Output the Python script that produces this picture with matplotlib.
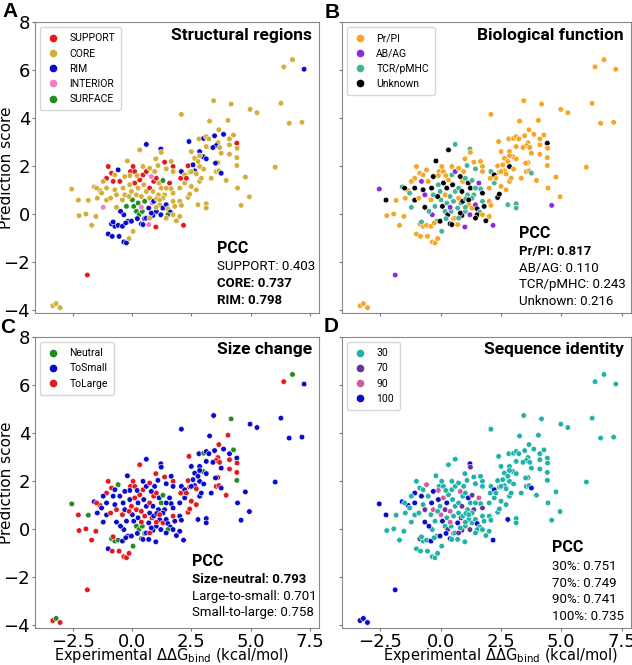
import matplotlib
matplotlib.use('Agg')
import matplotlib.pyplot as plt
from matplotlib.lines import Line2D


# Experimental ddG (x) and prediction score (y), same points in all four panels
ddg = [-3.35, -3.21, -3.04, -2.55, -2.27, -2.24, -1.95, -1.85, -1.89, -1.71,
       -1.60, -1.53, -1.47, -1.36, -1.29, -1.22, -1.08, -1.08, -1.01, -0.87,
       -0.80, -0.73, -0.91, -0.66, -1.01, -0.87, -0.73, -0.80, -0.59, -0.84,
       -0.55, -0.35, -0.24, -0.13, -0.59, -0.20, -0.38, -0.41, -0.35, -0.24,
       -0.41, -0.17, 0.04, 0.01, 0.07, 0.18, 0.29, 0.43, 0.53, 0.39,
       -0.03, 0.18, 0.11, 0.32, 0.46, 0.39, 0.49, 0.60, 0.74, 0.70,
       0.84, 0.91, 0.91, 1.02, 1.14, 1.11, 1.16, 1.02, 0.88, 1.00,
       0.60, 0.46, 0.70, -0.03, -0.27, 0.74, 1.02, 1.30, 1.44, 1.51,
       1.61, 0.60, 0.32, 1.00, 1.21, 1.23, -0.07, 0.11, -0.10, -0.73,
       0.21, 0.60, 0.74, 0.81, 0.95, 1.30, 1.23, 1.37, 1.44, 1.73,
       1.73, 1.58, 1.65, 1.73, 2.01, 2.08, 2.01, 2.17, 1.87, 1.51,
       1.73, 1.30, 1.04, 2.05, 2.08, 2.22, 2.36, 2.57, 2.85, 3.02,
       2.64, 2.43, 2.71, 2.36, 2.43, 2.50, 2.78, 3.13, 3.13, 2.85,
       3.34, 2.50, 2.85, 2.40, 2.82, 3.02, 3.13, 3.24, 3.48, 3.86,
       4.28, 4.11, 4.42, 4.43, 4.11, 3.62, 3.55, 3.69, 3.13, 3.41,
       3.76, 4.11, 4.42, 2.99, 2.85, 3.13, 2.64, 2.78, 3.62, 3.52,
       4.42, 3.55, 3.66, 3.76, 4.78, 3.97, 4.45, 4.95, 4.60, 4.05,
       3.66, 3.27, 3.44, 4.18, 2.08, 4.98, 5.27, 6.04, 6.28, 6.63,
       7.17, 6.40, 6.77, 7.26, -0.66, -0.49, -1.08, -0.31, -0.13, 0.25,
       0.39, 0.53, 0.22, 0.81, 1.21, 1.44, 1.80, 2.01, 2.22, 2.29,
       2.71, 2.92, 2.50, 1.65, 1.37, 1.09, 0.46, 0.04, -0.31, -0.52,
       -1.22, -1.50, -0.10, 0.25, 0.74, 0.88, 1.44, 1.73, 1.16]

score = [-3.82, -3.73, -3.90, 1.04, 0.58, -0.07, 0.00, 0.57, -2.54, -0.47,
         1.13, -0.10, 0.66, 0.98, 0.87, 0.28, 0.58, 1.49, 1.98, 1.70,
         1.36, 1.01, 0.66, 0.80, -0.83, -0.41, -0.51, -0.33, -0.47, -0.93,
         -0.93, -1.16, -1.20, -1.02, 1.84, 2.21, 1.08, 0.59, -0.03, 0.32,
         -0.51, -0.30, -0.72, 0.59, 0.32, 0.11, -0.03, 0.11, -0.19, -0.41,
         0.94, 0.80, 1.29, 1.42, 1.63, 0.73, 1.22, 0.94, 0.66, 0.25,
         0.46, 0.53, 1.36, 1.49, 1.29, 0.80, 0.39, 0.11, -0.06, -0.54,
         -0.17, -0.44, -0.44, -0.30, -0.37, -0.17, 0.28, 0.25, 0.39, 0.22,
         0.08, 2.90, 2.67, 2.30, 2.71, 2.57, 1.77, 1.77, 1.60, 1.63,
         1.60, 1.77, 1.91, 1.56, 1.77, 1.40, 1.08, 0.80, 1.88, 1.98,
         1.77, 1.29, 1.05, 0.87, 0.53, 0.36, -0.10, -0.47, -0.28, -0.03,
         -0.03, 0.66, 0.64, 1.49, 1.77, 1.63, 2.01, 2.05, 1.98, 1.87,
         1.80, 1.74, 1.67, 0.69, 0.83, 1.15, 0.39, 0.43, 0.25, 1.36,
         1.49, 2.60, 2.60, 3.02, 3.13, 3.15, 3.22, 3.13, 3.26, 3.32,
         3.29, 3.13, 2.95, 2.74, 2.88, 2.97, 2.85, 2.77, 2.81, 2.77,
         2.53, 2.49, 2.35, 2.39, 2.43, 2.30, 2.32, 2.19, 2.14, 2.12,
         2.02, 1.77, 1.80, 1.70, 1.54, 1.40, 1.08, 0.72, 0.36, 3.90,
         3.51, 3.87, 4.72, 4.58, 4.15, 4.36, 4.22, 1.95, 4.61, 3.78,
         3.82, 6.13, 6.43, 6.03, 0.28, 0.11, 1.08, 0.80, 0.73, 0.46,
         0.28, 0.53, -0.19, 0.04, -0.03, -0.17, 0.32, 1.08, 1.29, 1.49,
         1.01, 1.49, 1.77, 2.19, 2.16, 2.02, 1.98, 1.98, 1.56, 1.36,
         1.36, 1.08, 1.22, 1.08, 1.08, 0.94, 1.08, 0.53, 0.59]

# per-point group codes (one character per point)
region_codes = ("CCCCCCCCSC" "CCCCCICSSS" "SCCCRRRRRR" "RRRCRCCCRF" "RRCFFFFFRR"
                "CCSSSCCCCR" "IRSSCCCRRS" "RRIRRCCRRC" "RRCCRCSSCC" "CSCICFCCCS"
                "CSCCCCCSCF" "CCCSRCSRCC" "RCCCCCCCCC" "CCRRCRCCRR" "CCSCCCRCCR"
                "CCCRCRCCCR" "CCCRCCCCCC" "CCCCCCCCCC" "CCCRCRCCCF" "IFRRRCCCCS"
                "CCCCSCCSCS" "CCCCSCCCC")
function_codes = ("PPPAUPPPAP" "TPPPTTUPPP" "AUPAPPPTPP" "PPPPPUUPAT" "PTTTUTUTPU"
                  "TPUPTTUTPT" "TUPTUTPTUA" "PUPUPTTPAU" "TTUPTPPPPP" "PAPUPTUTTP"
                  "PATUPPPAUU" "PTTPTUPPUP" "PPPUUPTTTP" "PPPPPPPPPP" "PPUPPPPPPP"
                  "PPPPPPPPPP" "PPPTPPPPAP" "PPPPPPPPPP" "PPPPUTUTUT" "ATTUAUUPTP"
                  "PPPPPTPPUP" "PUTUTUTTU")
size_codes = ("LNLNLLLNLL" "SLSLSSSLLL" "SSLLSNNLNL" "LLLLNSSLSS" "SSNSSNNNNN"
              "LLLLLLSSSS" "LSLLSSSSSS" "SSSSSLLLSS" "SSLLSSLLSS" "SSLSSNNSSL"
              "SSSSSSSSSN" "SSSLSSLSSS" "SLLLLLSSSS" "SSSLSNSSSS" "NSSLLLLLSS"
              "SLLNSSSSLS" "NLLSSLSSSL" "LSSNSSSSSS" "SLNSSSSSLS" "LLSSSSSSSL"
              "LSSSLSSLSS" "SLSSLSSLL")
identity_codes = ("1111133313" "1331333133" "1337373333" "3333931333" "1339137331"
                  "3793393331" "7333133373" "3331373331" "3333173393" "3339373733"
                  "3937333133" "3333313333" "3333331333" "3333333333" "3333333333"
                  "3333333333" "3331333333" "3333333333" "3333111933" "9313733333"
                  "3333333313" "331137333")

region_labels = ['SUPPORT', 'CORE', 'RIM', 'INTERIOR', 'SURFACE']
function_labels = ['Pr/PI', 'AB/AG', 'TCR/pMHC', 'Unknown']
size_labels = ['Neutral', 'ToSmall', 'ToLarge']
identity_labels = ['30', '70', '90', '100']

pcc_region = ['SUPPORT: 0.403', 'CORE: 0.737', 'RIM: 0.798']
pcc_function = ['Pr/PI: 0.817', 'AB/AG: 0.110', 'TCR/pMHC: 0.243', 'Unknown: 0.216']
pcc_size = ['Size-neutral: 0.793', 'Large-to-small: 0.701', 'Small-to-large: 0.758']
pcc_identity = ['30%: 0.751', '70%: 0.749', '90%: 0.741', '100%: 0.735']


panels = [
    dict(letter='A', title='Structural regions', codes=region_codes,
         keys='SCRIF', labels=region_labels,
         colors=['#e31a1c', '#d4af37', '#0a0acd', '#ee7fc6', '#228b22'],
         pcc=pcc_region, bold=[False, True, True], px=0.641, py=0.223,
         pos=[0.0554, 0.529, 0.449, 0.438]),
    dict(letter='B', title='Biological function', codes=function_codes,
         keys='PATU', labels=function_labels,
         colors=['#f5a623', '#8a2be2', '#45b39c', '#000000'],
         pcc=pcc_function, bold=[True, False, False, False], px=0.612, py=0.275,
         pos=[0.541, 0.529, 0.457, 0.438]),
    dict(letter='C', title='Size change', codes=size_codes,
         keys='NSL', labels=size_labels,
         colors=['#228b22', '#0a0acd', '#e31a1c'],
         pcc=pcc_size, bold=[True, False, False], px=0.553, py=0.23,
         pos=[0.0554, 0.0556, 0.449, 0.438], xl=0.482),
    dict(letter='D', title='Sequence identity', codes=identity_codes,
         keys='3791', labels=identity_labels,
         colors=['#20b2aa', '#663399', '#d35d9b', '#0a0acd'],
         pcc=pcc_identity, bold=[False, False, False, False], px=0.729, py=0.275,
         pos=[0.541, 0.0556, 0.457, 0.438], xl=0.55),
]

fig = plt.figure(figsize=(6.32, 6.65), dpi=100)

for i, p in enumerate(panels):
    ax = fig.add_axes(p['pos'])
    cmap = dict(zip(p['keys'], p['colors']))
    point_colors = [cmap[c] for c in p['codes']]
    ax.scatter(ddg, score, c=point_colors, s=16, edgecolors='white', linewidths=0.4, zorder=3)

    ax.set_xlim(-4.1, 7.88)
    ax.set_ylim(-4.13, 8.0)
    ax.set_xticks([-2.5, 0.0, 2.5, 5.0, 7.5])
    ax.set_yticks([-4, -2, 0, 2, 4, 6, 8])
    ax.tick_params(labelsize=13, color='#777777', length=2.5, pad=1)
    for s in ax.spines.values():
        s.set_color('#888888')
        s.set_linewidth(0.8)

    if i % 2 == 0:
        ax.set_ylabel('Prediction score', fontsize=11)
        ax.yaxis.set_label_coords(-0.074, 0.498)
    else:
        ax.tick_params(labelleft=False)
    if i >= 2:
        ax.set_xlabel(r'Experimental $\Delta\Delta$G$_{\mathrm{bind}}$ (kcal/mol)', fontsize=10.5)
        ax.xaxis.set_label_coords(p['xl'], -0.062)
    else:
        ax.tick_params(labelbottom=False)

    handles = [Line2D([], [], marker='o', linestyle='', color=c, markersize=4.5)
               for c in p['colors']]
    ax.legend(handles, p['labels'], loc='upper left',
              prop={'family': 'Roboto', 'size': 7.5}, handletextpad=1.0,
              handlelength=1.2, labelspacing=0.5, borderpad=0.6)

    ax.text(0.975, 0.955, p['title'], transform=ax.transAxes, ha='right', va='center',
            fontsize=12.5, fontweight='bold', family='Roboto')

    ax.text(p['px'], p['py'], 'PCC', transform=ax.transAxes, ha='left', va='center',
            fontsize=11.5, fontweight='bold', family='Roboto')
    step = 0.057
    for k, line in enumerate(p['pcc']):
        ax.text(p['px'], p['py'] - 0.064 - k * step, line, transform=ax.transAxes,
                ha='left', va='center', fontsize=9.5, family='Roboto',
                fontweight='bold' if p['bold'][k] else 'normal')

letter_pos = {'A': (0.004, 0.974), 'B': (0.513, 0.973), 'C': (0.0, 0.499), 'D': (0.512, 0.501)}
for letter, (lx, ly) in letter_pos.items():
    fig.text(lx, ly, letter, fontsize=15, fontweight='bold', family='Liberation Sans',
             ha='left', va='baseline')

plt.savefig('out.png', dpi=100)
